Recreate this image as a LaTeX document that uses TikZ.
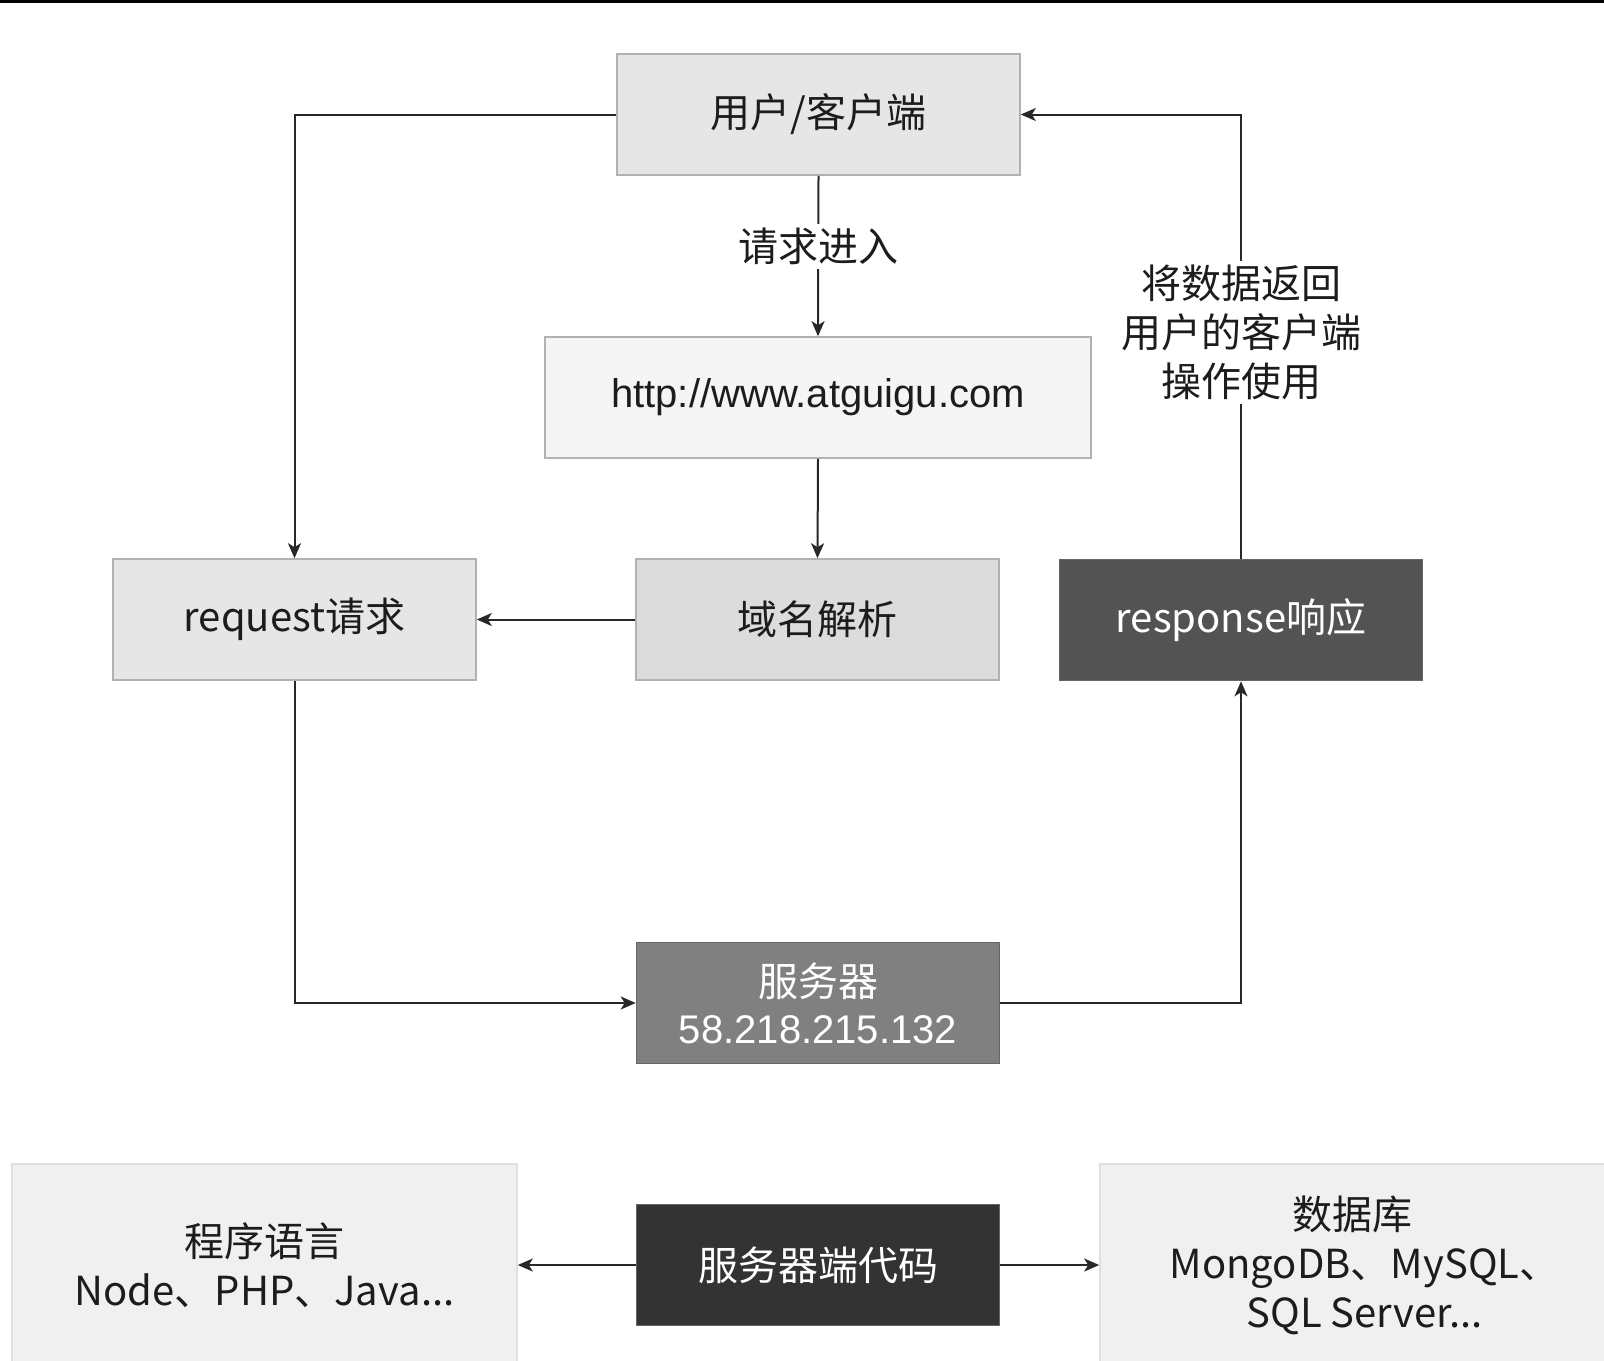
\documentclass[tikz,border=0pt]{standalone}
\usepackage{fontspec}
\setmainfont{Noto Sans CJK SC}
\newfontfamily\arialfont{Liberation Sans}
\usepackage{tikz}
\usepackage{xcolor}
\usetikzlibrary{shapes,arrows.meta,positioning,calc}
\definecolor{lineGrey}{RGB}{40,40,40}
\definecolor{frameGrey}{RGB}{178,178,178}
\definecolor{clientGrey}{RGB}{230,230,230}
\definecolor{urlGrey}{RGB}{245,245,245}
\definecolor{dnsGrey}{RGB}{220,220,220}
\definecolor{responseGrey}{RGB}{83,83,83}
\definecolor{serverGrey}{RGB}{128,128,128}
\definecolor{codeBlack}{RGB}{51,51,51}
\definecolor{sideGrey}{RGB}{240,240,240}
\definecolor{textBlack}{RGB}{28,28,28}

\tikzset{
  box/.style={draw=frameGrey, line width=0.8pt, inner sep=0pt, align=center,
    minimum width=181.5pt, minimum height=60.5pt, text=textBlack,
    font=\fontsize{20}{24.5}\selectfont},
  darkbox/.style={box, draw=black!60, text=white},
  link/.style={draw=lineGrey, line width=1pt},
  flow/.style={link, -{Stealth[length=7.5pt,width=6.5pt,inset=2pt]}},
  tag/.style={fill=white, inner sep=2pt, align=center, text=textBlack,
    font=\fontsize{20}{24.5}\selectfont}
}

\begin{document}
\begin{tikzpicture}[x=0.5pt,y=-0.5pt]
  \useasboundingbox (0,0) rectangle (1604,1360);
  \draw[line width=1.5pt] (0,1) -- (1604,1);

  % request cycle
  \node[box, fill=clientGrey, minimum width=201.5pt] (client) at (818.5,114.5) {用户/客户端};
  \node[box, fill=urlGrey, minimum width=273pt] (url) at (818,397.5) {\arialfont http://www.atguigu.com};
  \node[box, fill=clientGrey] (request) at (294.5,619.5) {request请求};
  \node[box, fill=dnsGrey] (dns) at (817.5,619.5) {域名解析};
  \node[darkbox, fill=responseGrey] (response) at (1241,620) {response响应};
  \node[darkbox, fill=serverGrey] (server) at (818,1003) {服务器\\[-1pt]{\arialfont 58.218.215.132}};

  \draw[flow] (client.south) -- node[tag, pos=0.44] (enter) {请求进入} (url.north);
  \draw[flow] (url.south) -- (dns.north);
  \draw[flow] (dns.west) -- (request.east);
  \draw[flow] (client.west) -| (request.north);
  \draw[flow] (request.south) |- (server.west);
  \draw[flow] (server.east) -| (response.south);
  \draw[flow] (response.north) |- node[tag, pos=0.255] (back) {将数据返回\\用户的客户端\\操作使用} (client.east);

  % server side
  \node[darkbox, fill=codeBlack] (code) at (818,1265) {服务器端代码};
  \node[box, fill=sideGrey, draw=black!12, minimum width=252.5pt, minimum height=101pt] (lang) at (264.5,1265) {程序语言\\Node、PHP、Java...};
  \node[box, fill=sideGrey, draw=black!12, minimum width=252.5pt, minimum height=101pt] (db) at (1352.5,1265) {数据库\\\hspace*{12pt}MongoDB、MySQL、\\\hspace*{12pt}SQL Server...};

  \draw[flow] (code.west) -- (lang.east);
  \draw[flow] (code.east) -- (db.west);
\end{tikzpicture}
\end{document}
